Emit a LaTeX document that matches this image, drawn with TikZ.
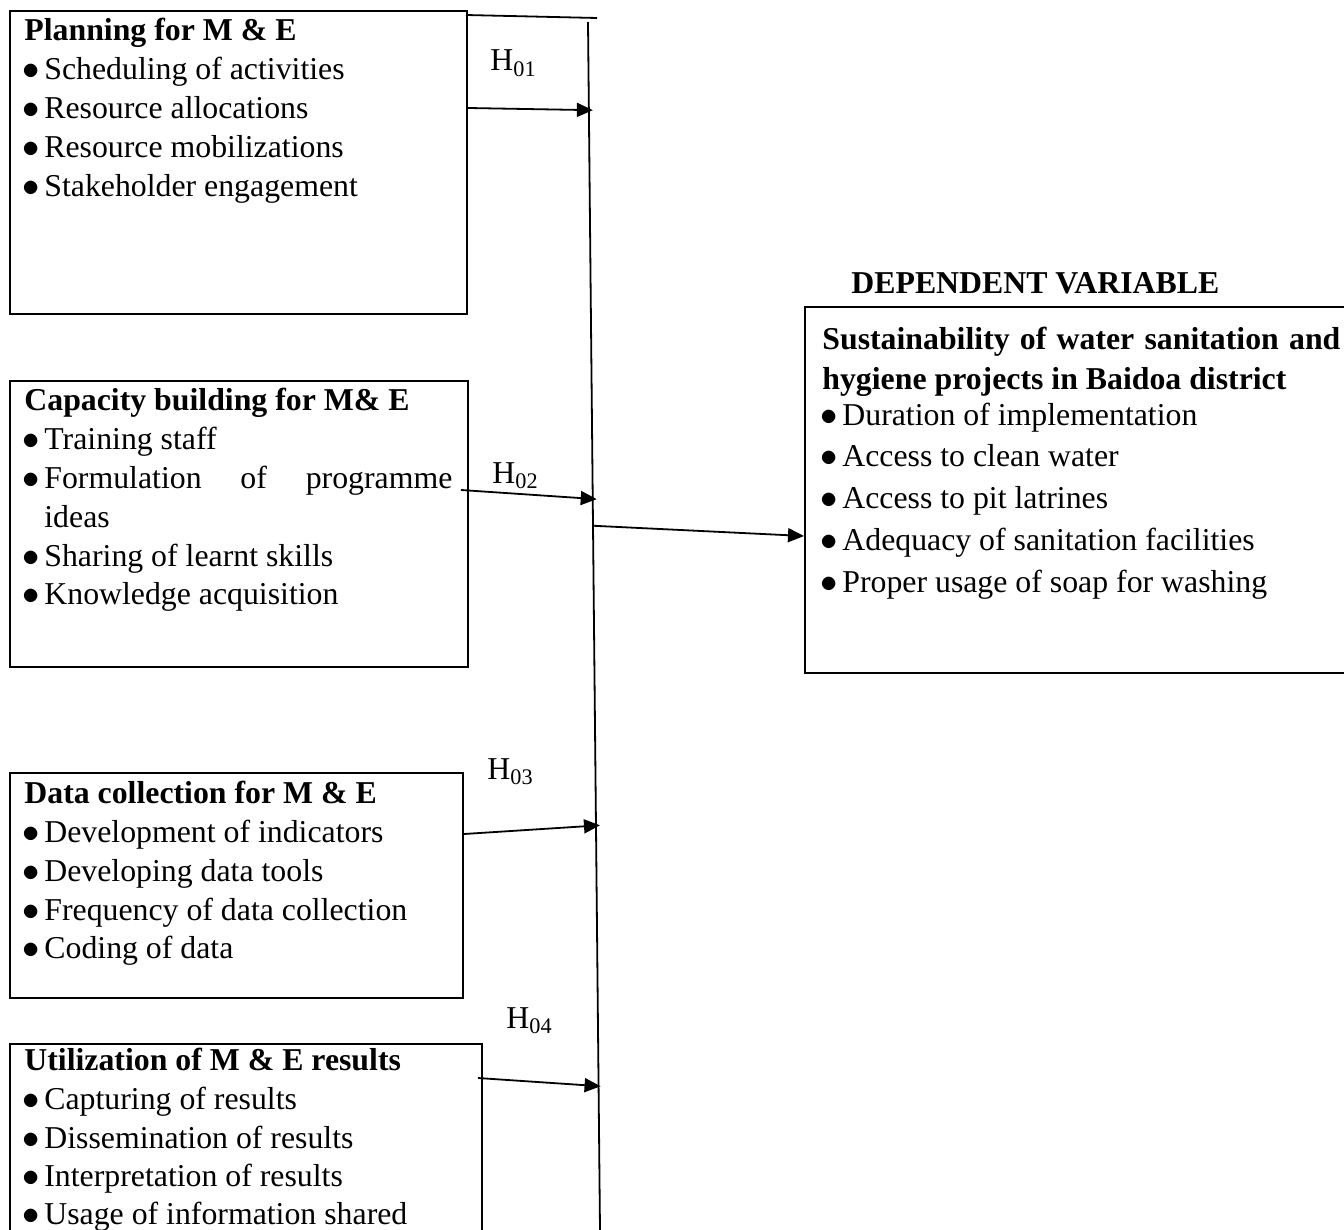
\documentclass[tikz,border=0pt]{standalone}
\usepackage{fontspec}
\setmainfont{Liberation Serif}
\usetikzlibrary{calc,arrows.meta}
\newcommand\fs{\fontsize{15.9}{18}\selectfont}
\newcommand\bul{\makebox[11pt][l]{$\bullet$}}
\tikzset{
  frame/.style={draw, line width=1pt, inner sep=0pt, anchor=north west},
  txt/.style={anchor=base west, inner sep=0pt, font=\fs},
  ttl/.style={anchor=base west, inner sep=0pt, font=\fs\bfseries},
  hlab/.style={anchor=base west, inner sep=0pt, font=\fs},
  bus/.style={line width=0.9pt},
  conn/.style={line width=0.9pt, -{Triangle[length=8pt,width=7pt]}}
}
\begin{document}
\begin{tikzpicture}[x=0.5pt,y=-0.5pt]
\useasboundingbox (0,0) rectangle (1344,1230);
% boxes
\node[frame, minimum width=228.5pt, minimum height=151.5pt] (b1) at (9,10) {};
\node[frame, minimum width=229pt, minimum height=143pt] (b2) at (9,380) {};
\node[frame, minimum width=226.5pt, minimum height=112.5pt] (b3) at (9,772) {};
\node[frame, minimum width=236pt, minimum height=150pt] (b4) at (9,1043) {};
\node[frame, minimum width=290pt, minimum height=183pt] (dv) at (804,306) {};
% box 1 text
\node[ttl] (t1) at (24,41) {Planning for M \& E};
\node[txt] (t1a) at (22,80) {\bul Scheduling of activities};
\node[txt] (t1b) at (22,119) {\bul Resource allocations};
\node[txt] (t1c) at (22,158) {\bul Resource mobilizations};
\node[txt] (t1d) at (22,197) {\bul Stakeholder engagement};
% box 2 text
\node[ttl] (t2) at (24,410) {Capacity building for M\& E};
\node[txt] (t2a) at (22,449) {\bul Training staff};
\node[txt] (t2b) at (22,488) {\bul\makebox[204pt][s]{Formulation of programme}};
\node[txt] (t2c) at (44,527) {ideas};
\node[txt] (t2d) at (22,566) {\bul Sharing of learnt skills};
\node[txt] (t2e) at (22,604) {\bul Knowledge acquisition};
% box 3 text
\node[ttl] (t3) at (24,803) {Data collection for M \& E};
\node[txt] (t3a) at (22,842) {\bul Development of indicators};
\node[txt] (t3b) at (22,881) {\bul Developing data tools};
\node[txt] (t3c) at (22,920) {\bul Frequency of data collection};
\node[txt] (t3d) at (22,958) {\bul Coding of data};
% box 4 text
\node[ttl] (t4) at (24,1070) {Utilization of M \& E results};
\node[txt] (t4a) at (22,1109) {\bul Capturing of results};
\node[txt] (t4b) at (22,1148) {\bul Dissemination of results};
\node[txt] (t4c) at (22,1186) {\bul Interpretation of results};
\node[txt] (t4d) at (22,1224) {\bul Usage of information shared};
% dependent variable
\node[ttl] (dvh) at (851,293) {DEPENDENT VARIABLE};
\node[ttl] (d0) at (822,350) {\makebox[259pt][s]{Sustainability of water sanitation and}};
\node[ttl] (d1) at (822,389) {hygiene projects in Baidoa district};
\node[txt] (da) at (820,425) {\bul Duration of implementation};
\node[txt] (db) at (820,466) {\bul Access to clean water};
\node[txt] (dc) at (820,508) {\bul Access to pit latrines};
\node[txt] (dd) at (820,550) {\bul Adequacy of sanitation facilities};
\node[txt] (de) at (820,592) {\bul Proper usage of soap for washing};
% hypothesis labels
\node[hlab] (h1) at (490,71) {H\textsubscript{01}};
\node[hlab] (h2) at (492,483) {H\textsubscript{02}};
\node[hlab] (h3) at (487,779) {H\textsubscript{03}};
\node[hlab] (h4) at (506,1028) {H\textsubscript{04}};
% bus line
\coordinate (bt) at (588,22);
\coordinate (bb) at (600,1230);
\coordinate (tl) at (466,15);
\coordinate (tr) at (597,18);
\draw[bus] (bt) -- (bb);
\draw[bus] (tl) -- (tr);
% connectors
\draw[conn] ($(b1.north east)+(0,98)$) -- ($(bt)!0.073!(bb)+(4,0)$);
\draw[conn] ($(b2.north east)+(-8,110)$) -- ($(bt)!0.395!(bb)+(4,0)$);
\draw[conn] ($(b3.north east)+(0,62)$) -- ($(bt)!0.665!(bb)+(4,0)$);
\draw[conn] ($(b4.north east)+(-5,35)$) -- ($(bt)!0.881!(bb)+(2,0)$);
\draw[conn] ($(bt)!0.417!(bb)$) -- ($(dv.north west)+(0,230)$);
\end{tikzpicture}
\end{document}
